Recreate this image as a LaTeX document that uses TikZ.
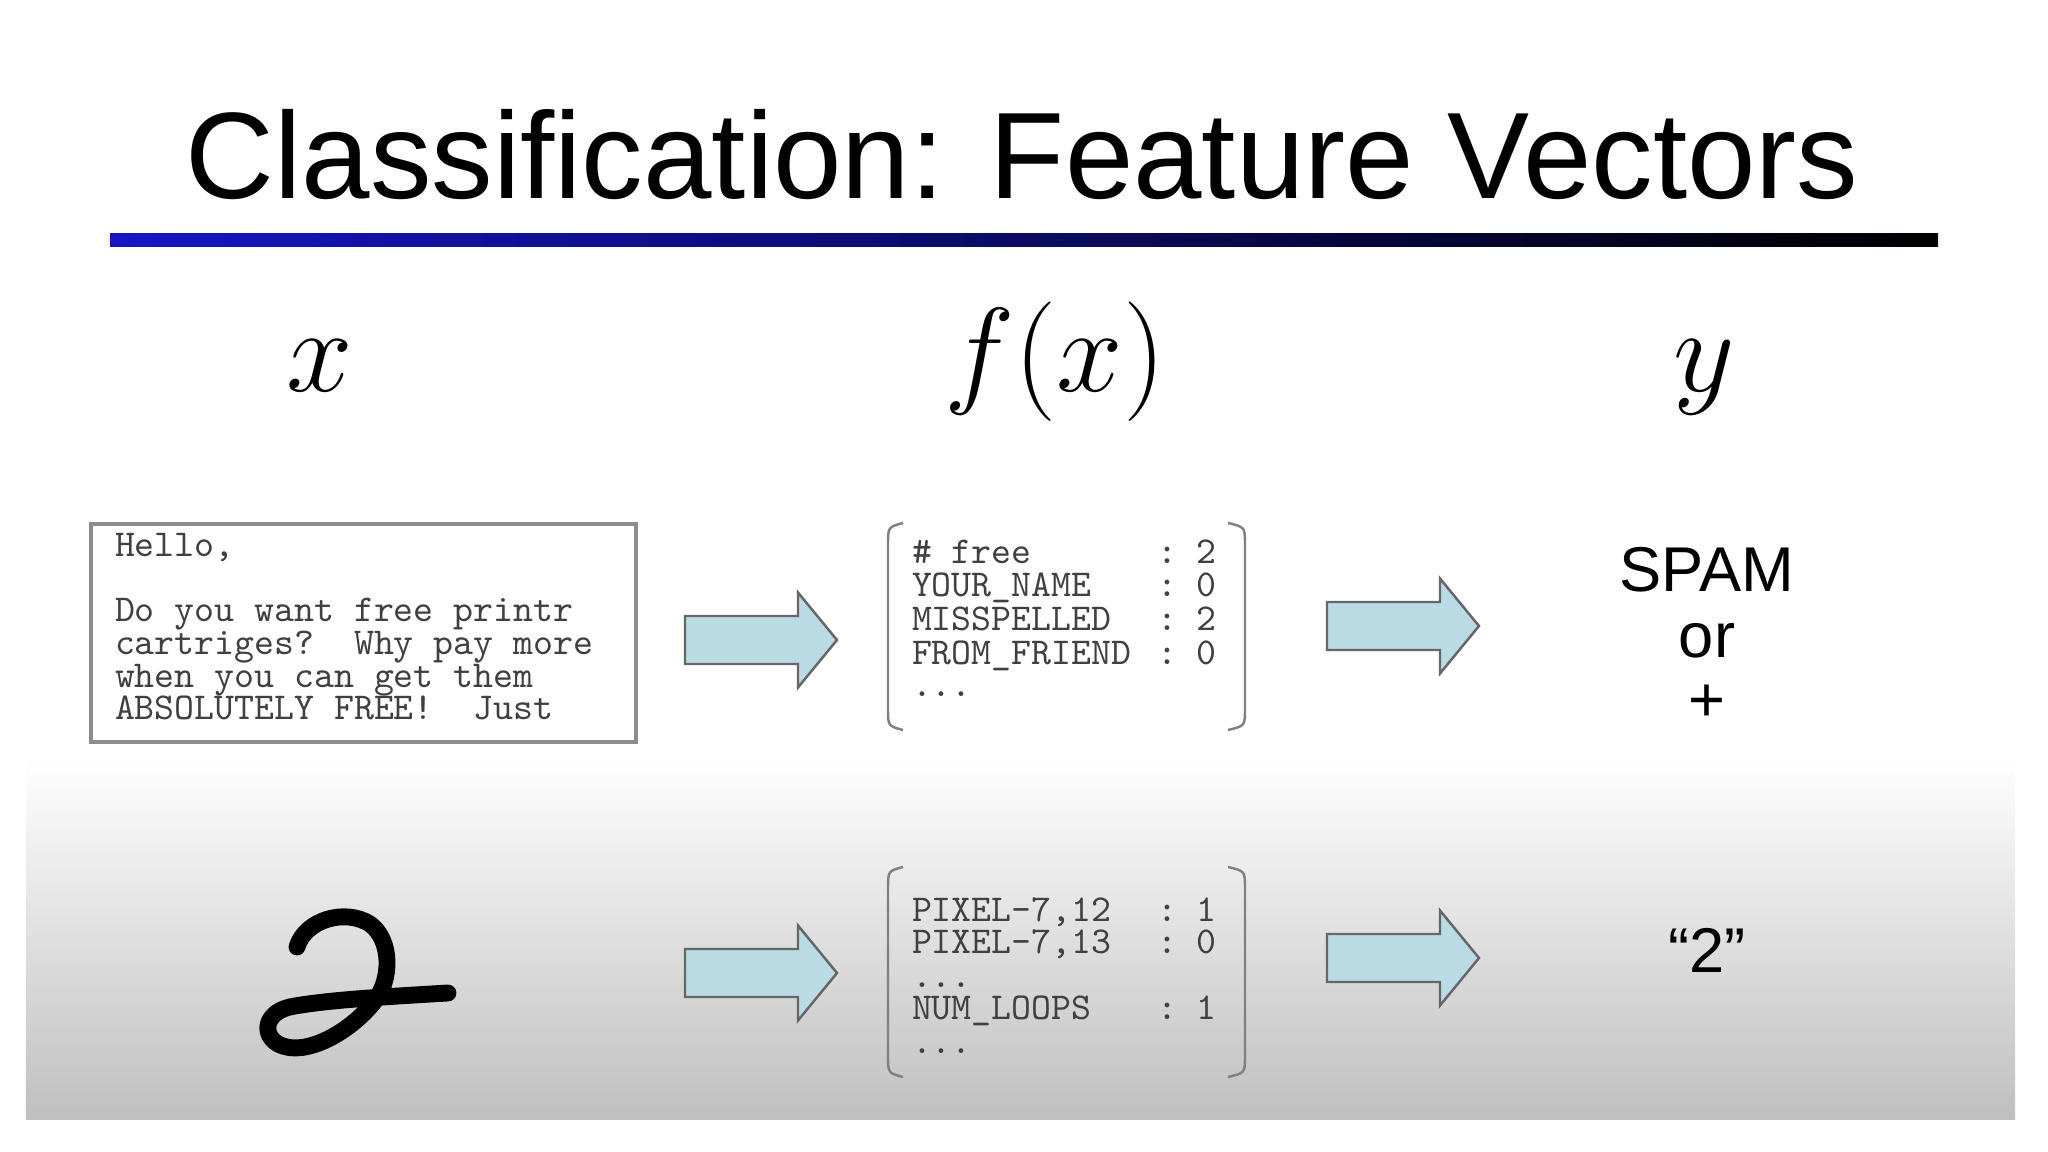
\documentclass[tikz,border=0pt]{standalone}
\usepackage{fix-cm}
\usepackage[no-math]{fontspec}
\setmainfont{Liberation Sans}
\usepackage{xcolor}
\usepackage{tikz}
\usetikzlibrary{positioning, calc}

\definecolor{arrowfill}{RGB}{186,219,227}
\definecolor{rulebluel}{RGB}{22,22,196}

\begin{document}
\begin{tikzpicture}[
  every node/.style={inner sep=0pt, outer sep=0pt},
  titletxt/.style={font=\fontsize{35}{40}\selectfont, anchor=base},
  mathtxt/.style={font=\fontsize{34}{40}\selectfont, anchor=base},
  mono/.style={font=\ttfamily\fontsize{10.8}{10}\selectfont, text=black!75, anchor=base west},
  answer/.style={font=\fontsize{18}{20}\selectfont, anchor=base},
  mailbox/.style={draw=black!45, line width=1pt, minimum width=5.45cm, minimum height=2.18cm},
  bracket/.style={draw=black!50, line width=0.7pt},
  blockarr/.style={fill=arrowfill, draw=black!60, line width=0.7pt, line join=miter},
  pen/.style={line width=4.8pt, line cap=round, line join=round, black},
]
  \useasboundingbox (0,0) rectangle (20.48,-11.52);

  % ── Grey backdrop of the lower row ─────────────────
  \shade[top color=white, bottom color=black!25] (0.26,-7.57) rectangle (20.15,-11.19);

  % ── Title and rule ─────────────────────────────────
  \node[titletxt] (title) at (10.22,-1.99) {Classification: Feature Vectors};
  \shade[left color=rulebluel, right color=black] (1.10,-2.335) rectangle (19.38,-2.465);

  % ── Column heads ───────────────────────────────────
  \node[mathtxt] (hx)  at ( 3.20,-3.92) {$x$};
  \node[mathtxt] (hfx) at (10.55,-3.92) {$f(x)$};
  \node[mathtxt] (hy)  at (17.04,-3.92) {$y$};

  % ── Row 1: e-mail ──────────────────────────────────
  \node[mailbox] (mail) at (3.635,-6.33) {};
  \node[mono] (m1) at (1.15,-5.566) {Hello,};
  \node[mono] (m2) at (1.15,-6.220) {Do you want free printr};
  \node[mono] (m3) at (1.15,-6.547) {cartriges?\ \ Why pay more};
  \node[mono] (m4) at (1.15,-6.874) {when you can get them};
  \node[mono] (m5) at (1.15,-7.200) {ABSOLUTELY FREE!\ \ Just};

  % feature vector 1
  \draw[bracket] (9.03,-5.23) .. controls (8.88,-5.27) .. (8.88,-5.45) -- (8.88,-7.08) .. controls (8.88,-7.26) .. (9.03,-7.30);
  \draw[bracket] (12.28,-5.23) .. controls (12.45,-5.27) .. (12.45,-5.45) -- (12.45,-7.08) .. controls (12.45,-7.26) .. (12.28,-7.30);
  \foreach \nm/\val/\yy [count=\i] in {\#\ free/2/-5.64, YOUR\_NAME/0/-5.97,
                                      MISSPELLED/2/-6.31, FROM\_FRIEND/0/-6.64} {
    \node[mono] (fa\i) at (9.12,\yy) {\nm};
    \node[mono] (va\i) at (11.57,\yy) {:\ \val};
  }
  \node[mono] (fa5) at (9.12,-6.97) {...};

  \node[answer] (spam) at (17.07,-5.92) {SPAM};
  \node[answer] (or)   at (17.07,-6.57) {or};
  \node[answer] (plus) at (17.07,-7.22) {+};

  % ── Row 2: digit ───────────────────────────────────
  \draw[pen] (2.97,-9.47) .. controls (3.05,-9.20) and (3.45,-9.08) .. (3.70,-9.24)
             .. controls (3.92,-9.40) and (3.92,-9.80) .. (3.74,-10.02)
             .. controls (3.50,-10.32) and (3.05,-10.58) .. (2.78,-10.44)
             .. controls (2.60,-10.33) and (2.66,-10.10) .. (2.95,-10.06)
             .. controls (3.30,-10.00) and (3.80,-9.97) .. (4.48,-9.93);

  % feature vector 2
  \draw[bracket] (9.03,-8.67) .. controls (8.88,-8.71) .. (8.88,-8.89) -- (8.88,-10.55) .. controls (8.88,-10.73) .. (9.03,-10.77);
  \draw[bracket] (12.28,-8.67) .. controls (12.45,-8.71) .. (12.45,-8.89) -- (12.45,-10.55) .. controls (12.45,-10.73) .. (12.28,-10.77);
  \node[mono] (fb1) at (9.12,-9.21)  {PIXEL-7,12};
  \node[mono] (vb1) at (11.57,-9.21) {:\ 1};
  \node[mono] (fb2) at (9.12,-9.54)  {PIXEL-7,13};
  \node[mono] (vb2) at (11.57,-9.54) {:\ 0};
  \node[mono] (fb3) at (9.12,-9.87)  {...};
  \node[mono] (fb4) at (9.12,-10.20) {NUM\_LOOPS};
  \node[mono] (vb4) at (11.57,-10.20) {:\ 1};
  \node[mono] (fb5) at (9.12,-10.53) {...};

  \node[answer] (two) at (17.07,-9.72) {``2''};

  % ── Block arrows ───────────────────────────────────
  \foreach \ax/\ay in {6.85/-6.40, 13.27/-6.26, 6.85/-9.73, 13.27/-9.58} {
    \filldraw[blockarr] (\ax,\ay) ++(0,0.24) -- ++(1.13,0) -- ++(0,0.235)
      -- ++(0.39,-0.475) -- ++(-0.39,-0.475) -- ++(0,0.235) -- ++(-1.13,0) -- cycle;
  }

\end{tikzpicture}
\end{document}
